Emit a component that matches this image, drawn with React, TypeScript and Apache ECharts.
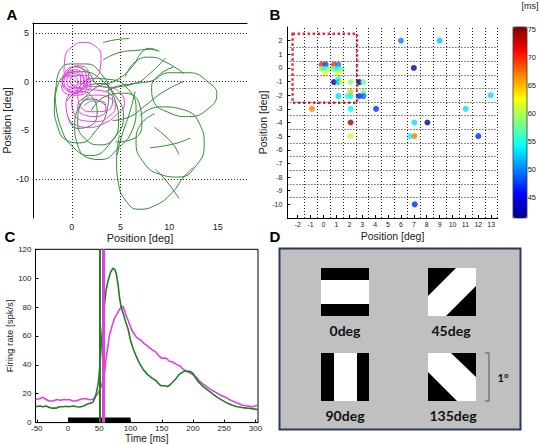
import React, { useEffect, useRef } from "react";
import * as echarts from "echarts";

// ---------- Panel A: eye-position traces [deg] ----------
const greenTraces: number[][][] = [
  [[-1.6, -0.4], [-1.3, 1.0], [-0.2, 1.8], [1.5, 1.8], [3.0, 0.8], [3.8, -1.0], [3.6, -3.0], [2.5, -5.0], [0.8, -6.3], [-0.6, -6.0], [-1.5, -4.5], [-1.8, -2.5], [-1.6, -0.4]],
  [[0.5, -1.0], [2.0, 0.3], [4.0, 0.2], [5.8, -0.8], [6.6, -2.8], [6.2, -5.0], [4.8, -6.8], [3.0, -8.0], [1.6, -7.8], [0.6, -6.5], [0.3, -4.5], [0.8, -2.5], [1.8, -1.6]],
  [[1.0, -2.0], [2.5, -0.6], [4.5, 0.1], [6.2, 1.5], [7.2, 3.0], [8.0, 3.4], [8.9, 3.1]],
  [[6.0, -0.2], [8.0, 0.0], [10.0, 0.9], [12.0, 0.9], [14.2, -0.2], [14.9, -1.3], [14.0, -2.8], [12.0, -3.6], [10.0, -3.2], [8.4, -2.0], [8.2, -0.6], [9.0, 0.7], [10.5, 1.5]],
  [[7.0, -3.5], [9.0, -2.6], [11.5, -2.9], [13.2, -4.5], [13.6, -6.5], [12.8, -8.6], [11.0, -9.8], [9.0, -9.5], [7.3, -8.2], [6.6, -6.2], [7.0, -4.5], [8.5, -3.3]],
  [[4.9, -5.5], [4.6, -8.0], [4.8, -10.5], [5.6, -12.3], [6.8, -13.1], [8.6, -12.7], [10.3, -11.4], [11.5, -9.8], [12.5, -8.8]],
  [[8.5, -4.7], [10.3, -6.3], [11.0, -7.5]],
  [[8.0, -6.8], [10.5, -6.4], [12.2, -5.8]],
  [[8.6, -9.0], [9.8, -10.3], [11.0, -12.0]],
  [[1.2, -0.5], [3.0, -0.2], [4.5, -1.5], [5.3, -3.5], [4.6, -5.5], [3.0, -6.5], [1.5, -6.0], [0.6, -4.2], [0.9, -2.4], [2.2, -1.8], [3.5, -2.5]],
  [[3.5, -1.0], [5.0, -0.4], [6.5, -0.2], [8.0, 0.8], [9.6, 2.4]],
  [[4.2, -4.0], [6.0, -3.6], [7.5, -2.5], [9.5, -1.0], [11.5, 0.0]],
  [[-0.5, -2.0], [0.8, -1.0], [2.0, -1.5], [2.6, -3.2], [1.8, -4.6], [0.5, -4.8], [-0.4, -3.6]],
  [[3.2, 4.0], [4.6, 4.3], [5.9, 4.4]],
  [[3.2, 2.2], [5.0, 3.0], [6.8, 3.2], [8.0, 3.3], [9.0, 3.1]],
  [[-1.7, -1.5], [-1.2, -4.5], [0.2, -6.8], [2.0, -7.6], [3.8, -6.5], [4.8, -4.2], [4.4, -1.8], [3.0, 0.2], [1.0, 1.0], [-0.8, 0.6], [-1.7, -1.5]],
  [[2.0, -3.0], [3.5, -1.5], [5.5, -1.2], [7.0, -2.5], [7.2, -4.5], [6.0, -6.0], [4.5, -6.2]],
  [[6.5, -1.0], [6.0, -3.0], [5.0, -6.0], [4.7, -7.5]],
  [[5.5, 0.5], [6.5, 2.0], [8.0, 2.5], [10.0, 1.8], [11.5, 0.8]],
  [[0.3, 1.6], [1.6, 1.0], [2.8, -0.4], [4.0, -0.6], [6.2, -0.3]],
];

const magentaTraces: number[][][] = [
  [[-0.8, 1.0], [-0.7, 2.5], [0.1, 3.6], [1.2, 4.0], [2.3, 3.7], [3.0, 2.6], [2.9, 1.2], [2.2, 0.2], [1.0, -0.2], [0.0, 0.3], [-0.8, 1.0]],
  [[-0.9, 0.2], [-0.6, 1.1], [0.3, 1.5], [1.2, 1.2], [1.5, 0.2], [1.1, -0.8], [0.2, -1.1], [-0.6, -0.7], [-1.0, 0.1], [-0.5, 0.9], [0.4, 1.2], [1.1, 0.7], [1.2, -0.3], [0.6, -0.9], [-0.3, -0.8], [-0.8, -0.1], [-0.6, 0.7], [0.2, 1.0], [0.9, 0.6], [0.9, -0.3], [0.3, -0.7], [-0.4, -0.4], [-0.5, 0.3], [0.0, 0.8], [0.7, 0.7], [1.3, 0.1], [1.0, -0.6], [0.2, -0.5], [-0.2, 0.2], [0.3, 0.6], [1.6, 0.6], [1.9, -0.3], [1.4, -1.2], [0.4, -1.4], [-0.7, -1.2], [-1.1, -0.3]],
  [[0.0, -1.0], [-0.6, -2.2], [-0.4, -3.6], [0.5, -4.5], [1.8, -4.7], [3.3, -4.3], [4.6, -3.4], [5.4, -2.3], [5.0, -1.2], [3.8, -0.6], [2.2, -0.5], [0.8, -1.0], [0.0, -2.0], [0.2, -3.2], [1.1, -4.0], [2.6, -4.1], [3.9, -3.5], [4.5, -2.5], [3.9, -1.7], [2.5, -1.4], [1.2, -1.7], [0.6, -2.6], [1.2, -3.4], [2.5, -3.6], [3.5, -2.9], [3.3, -2.1], [2.1, -2.0], [1.3, -2.5]],
  [[-0.3, -0.5], [1.5, -0.8], [3.3, -1.0], [4.2, -1.8], [3.6, -3.0], [2.0, -3.1], [0.8, -2.4], [0.6, -1.3]],
  [[-0.6, 0.4], [-0.2, 1.3], [0.8, 1.6], [1.7, 0.9], [1.6, -0.4], [0.7, -1.2], [-0.4, -1.0], [-1.0, 0.0], [-0.4, 0.6], [0.5, 0.4], [0.6, -0.4], [-0.1, -0.3]],
];

const aXTicks = [0, 5, 10, 15];
const aYTicks = [5, 0, -5, -10];
const aGridX = [0, 5];
const aGridY = [5, 0, -10];

// ---------- Panel B: receptive-field positions and latency [ms] ----------
const rfX = [6, 9, 7, -0.14, 0.17, 0.81, 1.15, -0.14, 0.12, 0.45, 0.81, 1.1, 1.41, 0.12, 1.15, 0.81, 1.15, 1.15, 1.43, 2.1, 2.78, 3.09, 2.1, 3.09, 1.15, 1.85, 2.1, 2.78, 3.09, -0.9, 2.1, 4.07, 11.02, 12.96, 2.1, 7.04, 8.05, 2.1, 6.7, 7.04, 12.0, 7.07];
const rfY = [2, 2, 0, 0.24, 0.24, 0.24, 0.24, -0.07, -0.07, -0.07, -0.07, -0.07, -0.12, -0.36, -0.36, -1.04, -0.8, -1.04, -1.04, -1.04, -1.04, -1.04, -1.75, -1.75, -2.06, -2.06, -2.06, -2.06, -2.06, -3, -3, -3, -3, -2, -4, -4, -4, -5, -5, -5, -5, -10];
const rfLatency = [50, 52, 43, 70, 48, 70, 50, 58, 55, 60, 57, 54, 58, 62, 62, 43, 56, 52, 62, 59, 42, 58, 65, 58, 53, 56, 54, 47, 49, 67, 54, 47, 53, 53, 74, 53, 42, 61, 54, 67, 47, 47];
const bXTicks = [-2, -1, 0, 1, 2, 3, 4, 5, 6, 7, 8, 9, 10, 11, 12, 13];
const bYTicks = [2, 1, 0, -1, -2, -3, -4, -5, -6, -7, -8, -9, -10];
const bGridX = [-1.5, -0.5, 0.5, 1.5, 2.5, 3.5, 4.5, 5.5, 6.5, 7.5, 8.5, 9.5, 10.5, 11.5, 12.5, 13.5];
const bGridY = [1.5, 0.5, -0.5, -1.5, -2.5, -3.5, -4.5, -5.5, -6.5, -7.5, -8.5, -9.5];
const bFrame = [[-2.4, 2.5], [2.6, -2.55]];
const latencyTicks = [45, 50, 55, 60, 65, 70, 75];
const latencyRange = [41.3, 75.5];

// ---------- Panel C: firing rate [spk/s] vs time [ms] ----------
const timeGreen = [-52, -45, -40, -35, -30, -25, -19, -14, -8, -3, 2, 8, 14, 19, 25, 32, 37, 40, 43, 45, 47, 49, 51, 53, 55, 58, 61, 64, 68, 72, 75, 77, 80, 82, 85, 88, 92, 96, 100, 104, 109, 114, 120, 127, 134, 141, 145, 149, 154, 159, 163, 167, 172, 178, 182, 186, 191, 196, 200, 204, 209, 215, 222, 231, 239, 247, 255, 263, 271, 279, 287, 295, 303];
const rateGreen = [11, 11.5, 11, 11.5, 10.5, 10, 10, 11, 11, 11.3, 11, 11.5, 11, 10.8, 11.5, 13, 13.5, 14.2, 17, 20, 24, 29, 40, 52, 64, 80, 92, 98, 104, 107, 106, 103.5, 96, 88, 80, 76, 70, 65, 57, 51.5, 46, 41.4, 37, 33.4, 31, 29, 27, 25.5, 25.5, 25, 26, 27.8, 30, 33.4, 34.5, 35.7, 35.5, 35.3, 34, 31, 28, 25.5, 23, 20, 17.5, 15.4, 13.5, 12, 11, 10.4, 10, 9.7, 9];
const timeMagenta = [-52, -46, -40, -35, -30, -24, -18, -12, -6, -3, 2, 8, 13, 19, 24, 29, 33, 37, 41, 45, 48, 50, 53, 56, 59, 61, 64, 66, 70, 74, 78, 82, 85, 88, 91, 93, 97, 101, 105, 109, 113, 117, 121, 125, 130, 135, 140, 146, 150, 157, 162, 167, 173, 180, 184, 188, 193, 199, 204, 210, 215, 220, 228, 236, 244, 252, 258, 263, 271, 279, 287, 295, 303];
const rateMagenta = [16, 16.5, 17.5, 16, 15, 15, 16, 15.5, 16, 15.8, 16, 15, 15, 16, 16.5, 16.5, 16, 15.8, 16.5, 18.8, 20, 22, 25, 29, 36, 45, 53, 60, 66, 72, 75, 78, 80, 80.5, 77, 74, 70, 65, 62, 59.4, 58, 57, 55, 53.8, 52, 50.4, 49, 46, 44.5, 44.7, 42.5, 42, 40.5, 39, 37, 36, 35, 33.4, 32, 29, 27, 25.5, 23, 21, 19, 17.6, 16, 15, 13.5, 12, 11.5, 11, 12];
const cXTicks = [-50, 0, 50, 100, 150, 200, 250, 300];
const cYTicks = [0, 20, 40, 60, 80, 100, 120];
const stimulusBar = [0, 100];
const onsetGreen = 50;
const onsetMagenta = 57;

const GREEN_A = "#2e8b2e";
const MAGENTA_A = "#e63ce6";
const GREEN_C = "#227d22";
const MAGENTA_C = "#e040e0";
const FONT = "Liberation Sans";

export default function App() {
  const ref = useRef<HTMLDivElement>(null);

  useEffect(() => {
    if (!ref.current) return;
    const chart = echarts.init(ref.current, undefined, { renderer: "svg" });

    const line = { lineStyle: { color: "#000", width: 1 }, onZero: false };
    const lbl = (size: number, margin: number, values?: number[]) => ({
      fontFamily: FONT,
      fontSize: size,
      color: "#222",
      margin,
      showMinLabel: true,
      showMaxLabel: true,
      hideOverlap: false,
      ...(values ? { customValues: values } : {}),
    });
    const nameStyle = (size: number) => ({ fontFamily: FONT, fontSize: size, color: "#222" });
    const dotted = { type: [1, 2], color: "#222", width: 1 };

    const series: any[] = [];

    // Panel A
    series.push({
      type: "line",
      xAxisIndex: 0,
      yAxisIndex: 0,
      data: [],
      silent: true,
      markLine: {
        silent: true,
        symbol: ["none", "none"],
        label: { show: false },
        lineStyle: dotted,
        data: [...aGridX.map((v) => ({ xAxis: v })), ...aGridY.map((v) => ({ yAxis: v }))],
      },
    });
    greenTraces.forEach((tr) =>
      series.push({
        type: "line",
        xAxisIndex: 0,
        yAxisIndex: 0,
        data: tr,
        smooth: 0.5,
        showSymbol: false,
        silent: true,
        lineStyle: { color: GREEN_A, width: 1 },
      })
    );
    magentaTraces.forEach((tr) =>
      series.push({
        type: "line",
        xAxisIndex: 0,
        yAxisIndex: 0,
        data: tr,
        smooth: 0.5,
        showSymbol: false,
        silent: true,
        lineStyle: { color: MAGENTA_A, width: 1 },
      })
    );

    // Panel B
    series.push({
      type: "line",
      xAxisIndex: 2,
      yAxisIndex: 1,
      data: [],
      silent: true,
      markLine: {
        silent: true,
        symbol: ["none", "none"],
        label: { show: false },
        lineStyle: dotted,
        data: [...bGridX.map((v) => ({ xAxis: v })), ...bGridY.map((v) => ({ yAxis: v }))],
      },
      markArea: {
        silent: true,
        itemStyle: { color: "rgba(0,0,0,0)", borderColor: "#e3303a", borderWidth: 2.5, borderType: [2.5, 2.5] },
        data: [[{ coord: bFrame[0] }, { coord: bFrame[1] }]],
      },
    });
    const scatterIndex = series.length;
    series.push({
      type: "scatter",
      xAxisIndex: 2,
      yAxisIndex: 1,
      symbolSize: 6,
      data: rfX.map((x, i) => [x, rfY[i], rfLatency[i]]),
    });

    // Panel C
    series.push({
      type: "line",
      xAxisIndex: 3,
      yAxisIndex: 2,
      data: [],
      silent: true,
      markArea: {
        silent: true,
        itemStyle: { color: "#000" },
        data: [[{ coord: [stimulusBar[0], 0] }, { coord: [stimulusBar[1], 3.5] }]],
      },
    });
    series.push({
      type: "line",
      xAxisIndex: 3,
      yAxisIndex: 2,
      data: timeMagenta.map((t, i) => [t, rateMagenta[i]]),
      showSymbol: false,
      silent: true,
      lineStyle: { color: MAGENTA_C, width: 1.6 },
    });
    series.push({
      type: "line",
      xAxisIndex: 3,
      yAxisIndex: 2,
      data: timeGreen.map((t, i) => [t, rateGreen[i]]),
      showSymbol: false,
      silent: true,
      lineStyle: { color: GREEN_C, width: 1.6 },
      markLine: {
        silent: true,
        symbol: ["none", "none"],
        label: { show: false },
        data: [
          { xAxis: onsetGreen, lineStyle: { color: GREEN_C, width: 2, type: "solid" } },
          { xAxis: onsetMagenta, lineStyle: { color: MAGENTA_C, width: 3, type: "solid" } },
        ],
      },
    });

    const S = 48;
    const sq = [
      { x: 321, y: 268 },
      { x: 428, y: 268 },
      { x: 321, y: 353 },
      { x: 428, y: 353 },
    ];
    const dLabel = (text: string, x: number, y: number) => ({
      type: "text",
      x,
      y,
      style: { text, fill: "#111", font: "bold 14px Lato", textAlign: "center", textVerticalAlign: "middle" },
    });
    const letter = (text: string, x: number, y: number) => ({
      type: "text",
      x,
      y,
      style: { text, fill: "#000", font: "bold 15px 'Liberation Sans'", textAlign: "center", textVerticalAlign: "middle" },
    });

    const graphic: any[] = [
      letter("A", 12, 14),
      letter("B", 275, 14),
      letter("C", 10, 236),
      letter("D", 275, 236),
      {
        type: "text",
        x: 530,
        y: 6,
        style: { text: "[ms]", fill: "#222", font: "9px 'Liberation Sans'", textAlign: "center", textVerticalAlign: "middle" },
      },
      {
        type: "rect",
        z: 10,
        shape: { x: 513, y: 27, width: 14, height: 191 },
        style: { fill: "none", stroke: "#333", lineWidth: 0.8 },
      },
      {
        type: "rect",
        shape: { x: 279.5, y: 248.5, width: 241, height: 181 },
        style: { fill: "#c0c0c0", stroke: "#2b3a5c", lineWidth: 2 },
      },
      // 0deg
      { type: "rect", shape: { x: sq[0].x, y: sq[0].y, width: S, height: S }, style: { fill: "#fff" } },
      { type: "rect", shape: { x: sq[0].x, y: sq[0].y, width: S, height: 12 }, style: { fill: "#000" } },
      { type: "rect", shape: { x: sq[0].x, y: sq[0].y + 36, width: S, height: 12 }, style: { fill: "#000" } },
      // 45deg
      { type: "rect", shape: { x: sq[1].x, y: sq[1].y, width: S, height: S }, style: { fill: "#fff" } },
      {
        type: "polygon",
        shape: { points: [[sq[1].x, sq[1].y], [sq[1].x + 28, sq[1].y], [sq[1].x, sq[1].y + 28]] },
        style: { fill: "#000" },
      },
      {
        type: "polygon",
        shape: { points: [[sq[1].x + 18, sq[1].y + S], [sq[1].x + S, sq[1].y + S], [sq[1].x + S, sq[1].y + 18]] },
        style: { fill: "#000" },
      },
      // 90deg
      { type: "rect", shape: { x: sq[2].x, y: sq[2].y, width: S, height: S }, style: { fill: "#fff" } },
      { type: "rect", shape: { x: sq[2].x, y: sq[2].y, width: 13, height: S }, style: { fill: "#000" } },
      { type: "rect", shape: { x: sq[2].x + 36, y: sq[2].y, width: 12, height: S }, style: { fill: "#000" } },
      // 135deg
      { type: "rect", shape: { x: sq[3].x, y: sq[3].y, width: S, height: S }, style: { fill: "#fff" } },
      {
        type: "polygon",
        shape: { points: [[sq[3].x + 23, sq[3].y], [sq[3].x + S, sq[3].y], [sq[3].x + S, sq[3].y + 24]] },
        style: { fill: "#000" },
      },
      {
        type: "polygon",
        shape: { points: [[sq[3].x, sq[3].y + 19], [sq[3].x, sq[3].y + S], [sq[3].x + 29, sq[3].y + S]] },
        style: { fill: "#000" },
      },
      dLabel("0deg", 345, 330),
      dLabel("45deg", 451, 330),
      dLabel("90deg", 345, 415),
      dLabel("135deg", 453, 415),
      {
        type: "polyline",
        shape: { points: [[485, 353], [489, 353], [489, 401], [485, 401]] },
        style: { stroke: "#555", lineWidth: 1, fill: "none" },
      },
      {
        type: "text",
        x: 503,
        y: 377,
        style: { text: "1°", fill: "#111", font: "bold 11px Lato", textAlign: "center", textVerticalAlign: "middle" },
      },
    ];

    const option: any = {
      animation: false,
      backgroundColor: "#fff",
      grid: [
        { left: 31, top: 23, width: 216, height: 195 },
        { left: 287.4, top: 27, width: 210.3, height: 191 },
        { left: 35.5, top: 249.3, width: 222.5, height: 176.7, show: true, borderColor: "#000", borderWidth: 1, backgroundColor: "transparent" },
        { left: 513, top: 27, width: 14, height: 191 },
      ],
      xAxis: [
        {
          gridIndex: 0, type: "value", min: -4, max: 18, position: "bottom",
          axisLine: { show: false, onZero: false }, axisTick: { show: false }, splitLine: { show: false },
          axisLabel: lbl(9, 4, aXTicks),
          name: "Position [deg]", nameLocation: "middle", nameGap: 14, nameTextStyle: nameStyle(11),
        },
        {
          gridIndex: 0, type: "value", min: -4, max: 18, position: "top",
          axisLine: { show: true, ...line }, axisTick: { show: false }, axisLabel: { show: false }, splitLine: { show: false },
        },
        {
          gridIndex: 1, type: "value", min: -2.8, max: 13.5, position: "bottom",
          axisLine: { show: true, ...line },
          axisTick: { show: true, inside: true, length: 3, customValues: bXTicks, lineStyle: { color: "#000" } },
          splitLine: { show: false },
          axisLabel: lbl(7, 3, bXTicks),
          name: "Position [deg]", nameLocation: "middle", nameGap: 12, nameTextStyle: nameStyle(10.5),
        },
        {
          gridIndex: 2, type: "value", min: -52, max: 304, position: "bottom",
          axisLine: { show: true, ...line },
          axisTick: { show: true, inside: true, length: 3, customValues: cXTicks, lineStyle: { color: "#000" } },
          splitLine: { show: false },
          axisLabel: lbl(8, 1.5, cXTicks),
          name: "Time [ms]", nameLocation: "middle", nameGap: 9, nameTextStyle: nameStyle(10),
        },
        { gridIndex: 3, type: "value", min: 0, max: 1, show: false },
      ],
      yAxis: [
        {
          gridIndex: 0, type: "value", min: -14, max: 6,
          axisLine: { show: true, ...line }, axisTick: { show: false }, splitLine: { show: false },
          axisLabel: lbl(9, 4, aYTicks),
          name: "Position [deg]", nameLocation: "middle", nameGap: 18, nameTextStyle: nameStyle(11),
        },
        {
          gridIndex: 1, type: "value", min: -11, max: 3,
          axisLine: { show: true, ...line },
          axisTick: { show: true, inside: true, length: 3, customValues: bYTicks, lineStyle: { color: "#000" } },
          splitLine: { show: false },
          axisLabel: lbl(7, 5, bYTicks),
          name: "Position [deg]", nameLocation: "middle", nameGap: 15, nameTextStyle: nameStyle(10.5),
        },
        {
          gridIndex: 2, type: "value", min: 0, max: 120, interval: 20,
          axisLine: { show: true, ...line },
          axisTick: { show: true, inside: true, length: 3, customValues: cYTicks, lineStyle: { color: "#000" } },
          splitLine: { show: false },
          axisLabel: lbl(8, 4, cYTicks),
          name: "Firing rate [spk/s]", nameLocation: "middle", nameGap: 18.5, nameTextStyle: nameStyle(9.5),
        },
        {
          gridIndex: 3, type: "value", min: latencyRange[0], max: latencyRange[1], position: "right",
          axisLine: { show: false, onZero: false },
          axisTick: { show: true, inside: true, length: 3, customValues: latencyTicks, lineStyle: { color: "#222" } },
          splitLine: { show: false },
          axisLabel: lbl(7.5, 2, latencyTicks),
        },
      ],
      visualMap: [
        {
          type: "continuous",
          min: latencyRange[0],
          max: latencyRange[1],
          dimension: 2,
          seriesIndex: [scatterIndex],
          calculable: false,
          hoverLink: false,
          left: 513,
          top: 27,
          padding: 0,
          itemWidth: 14,
          itemHeight: 191,
          inRange: {
            color: ["#00008f", "#0000ff", "#0080ff", "#00ffff", "#80ff80", "#ffff00", "#ff8000", "#ff0000", "#800000"],
          },
        },
      ],
      series,
      graphic,
    };

    chart.setOption(option);
    return () => chart.dispose();
  }, []);

  return (
    <div
      ref={ref}
      style={{ position: "fixed", left: 0, top: 0, width: 539, height: 444, background: "#fff" }}
    />
  );
}
